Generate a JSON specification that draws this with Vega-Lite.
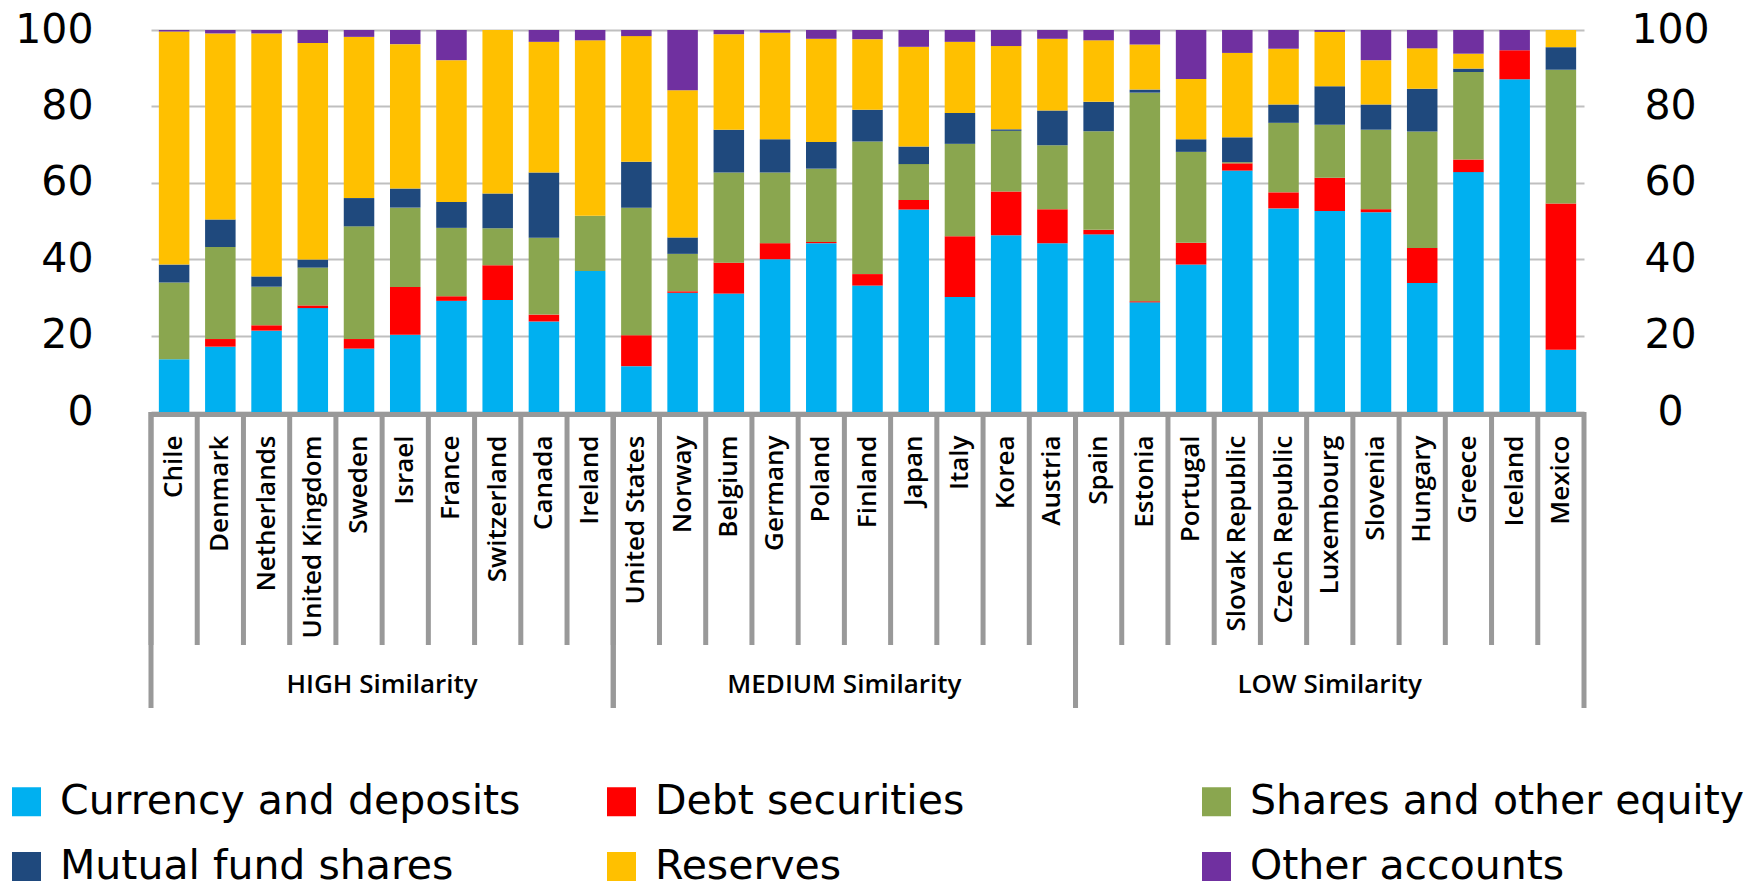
{
  "$schema": "https://vega.github.io/schema/vega-lite/v6.json",
  "autosize": {"type": "none"},
  "padding": {"left": 151, "top": 30, "right": 167, "bottom": 854},
  "background": "white",
  "config": {"view": {"stroke": null}, "font": "DejaVu Sans"},
  "datasets": {
    "shares": [
      {"country": "Chile", "Currency and deposits": 13.8, "Debt securities": 0, "Shares and other equity": 20.1, "Mutual fund shares": 4.7, "Reserves": 61.0, "Other accounts": 0.4},
      {"country": "Denmark", "Currency and deposits": 17.1, "Debt securities": 2.0, "Shares and other equity": 24.1, "Mutual fund shares": 7.2, "Reserves": 48.7, "Other accounts": 0.9},
      {"country": "Netherlands", "Currency and deposits": 21.3, "Debt securities": 1.4, "Shares and other equity": 10.1, "Mutual fund shares": 2.7, "Reserves": 63.6, "Other accounts": 0.9},
      {"country": "United Kingdom", "Currency and deposits": 27.2, "Debt securities": 0.7, "Shares and other equity": 9.9, "Mutual fund shares": 2.1, "Reserves": 56.7, "Other accounts": 3.4},
      {"country": "Sweden", "Currency and deposits": 16.6, "Debt securities": 2.5, "Shares and other equity": 29.5, "Mutual fund shares": 7.4, "Reserves": 42.2, "Other accounts": 1.8},
      {"country": "Israel", "Currency and deposits": 20.2, "Debt securities": 12.5, "Shares and other equity": 20.8, "Mutual fund shares": 5.0, "Reserves": 37.8, "Other accounts": 3.7},
      {"country": "France", "Currency and deposits": 29.1, "Debt securities": 1.2, "Shares and other equity": 17.9, "Mutual fund shares": 6.8, "Reserves": 37.1, "Other accounts": 7.9},
      {"country": "Switzerland", "Currency and deposits": 29.3, "Debt securities": 9.1, "Shares and other equity": 9.7, "Mutual fund shares": 9.1, "Reserves": 42.8, "Other accounts": 0},
      {"country": "Canada", "Currency and deposits": 23.7, "Debt securities": 1.8, "Shares and other equity": 20.1, "Mutual fund shares": 17.1, "Reserves": 34.2, "Other accounts": 3.1},
      {"country": "Ireland", "Currency and deposits": 36.9, "Debt securities": 0, "Shares and other equity": 14.5, "Mutual fund shares": 0, "Reserves": 45.9, "Other accounts": 2.7},
      {"country": "United States", "Currency and deposits": 12.0, "Debt securities": 8.1, "Shares and other equity": 33.4, "Mutual fund shares": 12.0, "Reserves": 32.9, "Other accounts": 1.6},
      {"country": "Norway", "Currency and deposits": 31.2, "Debt securities": 0.4, "Shares and other equity": 9.8, "Mutual fund shares": 4.3, "Reserves": 38.5, "Other accounts": 15.8},
      {"country": "Belgium", "Currency and deposits": 31.0, "Debt securities": 8.1, "Shares and other equity": 23.6, "Mutual fund shares": 11.2, "Reserves": 25.0, "Other accounts": 1.1},
      {"country": "Germany", "Currency and deposits": 40.0, "Debt securities": 4.2, "Shares and other equity": 18.5, "Mutual fund shares": 8.7, "Reserves": 27.9, "Other accounts": 0.7},
      {"country": "Poland", "Currency and deposits": 44.2, "Debt securities": 0.3, "Shares and other equity": 19.2, "Mutual fund shares": 7.0, "Reserves": 27.0, "Other accounts": 2.3},
      {"country": "Finland", "Currency and deposits": 33.1, "Debt securities": 3.0, "Shares and other equity": 34.7, "Mutual fund shares": 8.3, "Reserves": 18.5, "Other accounts": 2.4},
      {"country": "Japan", "Currency and deposits": 53.0, "Debt securities": 2.5, "Shares and other equity": 9.4, "Mutual fund shares": 4.6, "Reserves": 26.1, "Other accounts": 4.4},
      {"country": "Italy", "Currency and deposits": 30.1, "Debt securities": 15.9, "Shares and other equity": 24.2, "Mutual fund shares": 8.1, "Reserves": 18.6, "Other accounts": 3.1},
      {"country": "Korea", "Currency and deposits": 46.3, "Debt securities": 11.4, "Shares and other equity": 15.9, "Mutual fund shares": 0.4, "Reserves": 21.8, "Other accounts": 4.2},
      {"country": "Austria", "Currency and deposits": 44.2, "Debt securities": 8.9, "Shares and other equity": 16.7, "Mutual fund shares": 9.1, "Reserves": 18.8, "Other accounts": 2.3},
      {"country": "Spain", "Currency and deposits": 46.5, "Debt securities": 1.2, "Shares and other equity": 25.8, "Mutual fund shares": 7.7, "Reserves": 16.1, "Other accounts": 2.7},
      {"country": "Estonia", "Currency and deposits": 28.7, "Debt securities": 0.3, "Shares and other equity": 54.6, "Mutual fund shares": 0.8, "Reserves": 11.8, "Other accounts": 3.8},
      {"country": "Portugal", "Currency and deposits": 38.6, "Debt securities": 5.7, "Shares and other equity": 23.8, "Mutual fund shares": 3.3, "Reserves": 15.8, "Other accounts": 12.8},
      {"country": "Slovak Republic", "Currency and deposits": 63.2, "Debt securities": 1.9, "Shares and other equity": 0.3, "Mutual fund shares": 6.5, "Reserves": 22.1, "Other accounts": 6.0},
      {"country": "Czech Republic", "Currency and deposits": 53.3, "Debt securities": 4.2, "Shares and other equity": 18.2, "Mutual fund shares": 4.8, "Reserves": 14.6, "Other accounts": 4.9},
      {"country": "Luxembourg", "Currency and deposits": 52.6, "Debt securities": 8.7, "Shares and other equity": 13.9, "Mutual fund shares": 10.1, "Reserves": 14.2, "Other accounts": 0.5},
      {"country": "Slovenia", "Currency and deposits": 52.3, "Debt securities": 0.8, "Shares and other equity": 20.8, "Mutual fund shares": 6.6, "Reserves": 11.6, "Other accounts": 7.9},
      {"country": "Hungary", "Currency and deposits": 33.8, "Debt securities": 9.1, "Shares and other equity": 30.5, "Mutual fund shares": 11.2, "Reserves": 10.6, "Other accounts": 4.8},
      {"country": "Greece", "Currency and deposits": 62.8, "Debt securities": 3.3, "Shares and other equity": 22.9, "Mutual fund shares": 0.9, "Reserves": 3.9, "Other accounts": 6.2},
      {"country": "Iceland", "Currency and deposits": 87.1, "Debt securities": 7.6, "Shares and other equity": 0, "Mutual fund shares": 0, "Reserves": 0, "Other accounts": 5.3},
      {"country": "Mexico", "Currency and deposits": 16.3, "Debt securities": 38.3, "Shares and other equity": 35.0, "Mutual fund shares": 5.9, "Reserves": 4.5, "Other accounts": 0}
    ],
    "assets": [
      {"asset": "Currency and deposits", "rank": 1},
      {"asset": "Debt securities", "rank": 2},
      {"asset": "Shares and other equity", "rank": 3},
      {"asset": "Mutual fund shares", "rank": 4},
      {"asset": "Reserves", "rank": 5},
      {"asset": "Other accounts", "rank": 6}
    ],
    "groups": [
      {"group": "HIGH Similarity", "first": "Chile", "last": "Ireland", "mid": "Israel", "odd": false},
      {"group": "MEDIUM Similarity", "first": "United States", "last": "Austria", "mid": "Finland", "odd": false},
      {"group": "LOW Similarity", "first": "Spain", "last": "Mexico", "mid": "Luxembourg", "odd": true}
    ]
  },
  "spacing": 0,
  "bounds": "flush",
  "resolve": {"scale": {"x": "shared"}},
  "vconcat": [
    {
      "width": 1433,
      "height": 382,
      "resolve": {"scale": {"y": "independent"}},
      "layer": [
        {
          "data": {"name": "shares"},
          "transform": [
            {"fold": ["Currency and deposits", "Debt securities", "Shares and other equity", "Mutual fund shares", "Reserves", "Other accounts"], "as": ["asset", "share"]},
            {"lookup": "asset", "from": {"data": {"name": "assets"}, "key": "asset", "fields": ["rank"]}}
          ],
          "mark": {"type": "bar", "width": {"band": 0.66}},
          "encoding": {
            "x": {
              "field": "country", "type": "nominal", "title": null,
              "scale": {
                "domain": ["Chile", "Denmark", "Netherlands", "United Kingdom", "Sweden", "Israel", "France", "Switzerland", "Canada", "Ireland", "United States", "Norway", "Belgium", "Germany", "Poland", "Finland", "Japan", "Italy", "Korea", "Austria", "Spain", "Estonia", "Portugal", "Slovak Republic", "Czech Republic", "Luxembourg", "Slovenia", "Hungary", "Greece", "Iceland", "Mexico"],
                "paddingInner": 0, "paddingOuter": 0
              },
              "axis": {
                "labelAngle": -90, "labelFont": "Open Sans", "labelFontWeight": 600, "labelFontSize": 26,
                "labelColor": "black", "labelPadding": 21, "labelLimit": 400, "labelOverlap": false,
                "ticks": false, "domain": true, "domainColor": "#999999", "domainWidth": 5, "offset": 2
              }
            },
            "y": {
              "field": "share", "type": "quantitative", "stack": "zero", "title": null,
              "scale": {"domain": [0, 100]},
              "axis": {
                "values": [0, 20, 40, 60, 80, 100], "labelFont": "DejaVu Sans", "labelFontSize": 41,
                "labelColor": "black", "labelPadding": 58, "labelFlush": false, "ticks": false, "domain": false,
                "grid": true, "gridColor": "#bfbfbf", "gridWidth": 2
              }
            },
            "color": {
              "field": "asset", "type": "nominal",
              "scale": {
                "domain": ["Currency and deposits", "Mutual fund shares", "Debt securities", "Reserves", "Shares and other equity", "Other accounts"],
                "range": ["#00b0f0", "#1f497d", "#ff0000", "#ffc000", "#8aa64f", "#7030a0"]
              },
              "legend": {
                "orient": "none", "legendX": -145, "legendY": 751, "columns": 3, "title": null,
                "symbolType": "square", "symbolSize": 841, "symbolStrokeWidth": 0,
                "labelFont": "DejaVu Sans", "labelFontSize": 41, "labelColor": "black", "labelOffset": 13,
                "labelLimit": 700, "columnPadding": 46, "rowPadding": 23, "gridAlign": "all", "padding": 0
              }
            },
            "order": {"field": "rank", "type": "quantitative"}
          }
        },
        {
          "data": {"values": [{}]},
          "mark": {"type": "rule", "opacity": 0},
          "encoding": {
            "y": {
              "datum": 0, "type": "quantitative", "scale": {"domain": [0, 100]},
              "axis": {
                "orient": "right", "title": null, "values": [0, 20, 40, 60, 80, 100],
                "labelFont": "DejaVu Sans", "labelFontSize": 41, "labelColor": "black",
                "labelAlign": "center", "labelPadding": 86, "labelFlush": false,
                "ticks": false, "domain": false, "grid": false
              }
            }
          }
        }
      ]
    },
    {
      "width": 1433,
      "height": 296,
      "layer": [
        {
          "data": {"name": "shares"},
          "mark": {"type": "rule", "color": "#999999", "strokeWidth": 5},
          "encoding": {
            "x": {"field": "country", "type": "nominal", "bandPosition": 0, "axis": null},
            "y": {"datum": 0, "type": "quantitative", "scale": {"domain": [0, 1], "reverse": true}, "axis": null},
            "y2": {"datum": 0.787}
          }
        },
        {
          "data": {"name": "groups"},
          "mark": {"type": "rule", "color": "#999999", "strokeWidth": 5},
          "encoding": {
            "x": {"field": "first", "type": "nominal", "bandPosition": 0, "axis": null},
            "y": {"datum": 0, "type": "quantitative", "scale": {"domain": [0, 1], "reverse": true}, "axis": null},
            "y2": {"datum": 1}
          }
        },
        {
          "data": {"name": "groups"},
          "mark": {"type": "rule", "color": "#999999", "strokeWidth": 5},
          "encoding": {
            "x": {"field": "last", "type": "nominal", "bandPosition": 1, "axis": null},
            "y": {"datum": 0, "type": "quantitative", "scale": {"domain": [0, 1], "reverse": true}, "axis": null},
            "y2": {"datum": 1}
          }
        },
        {
          "data": {"name": "groups"},
          "transform": [{"filter": "!datum.odd"}],
          "mark": {"type": "text", "font": "Open Sans", "fontWeight": 600, "fontSize": 26, "color": "black", "baseline": "middle", "align": "center"},
          "encoding": {
            "x": {"field": "mid", "type": "nominal", "bandPosition": 0, "axis": null},
            "y": {"datum": 0.922, "type": "quantitative", "scale": {"domain": [0, 1], "reverse": true}, "axis": null},
            "text": {"field": "group"}
          }
        },
        {
          "data": {"name": "groups"},
          "transform": [{"filter": "datum.odd"}],
          "mark": {"type": "text", "font": "Open Sans", "fontWeight": 600, "fontSize": 26, "color": "black", "baseline": "middle", "align": "center"},
          "encoding": {
            "x": {"field": "mid", "type": "nominal", "bandPosition": 0.5, "axis": null},
            "y": {"datum": 0.922, "type": "quantitative", "scale": {"domain": [0, 1], "reverse": true}, "axis": null},
            "text": {"field": "group"}
          }
        }
      ]
    }
  ]
}
